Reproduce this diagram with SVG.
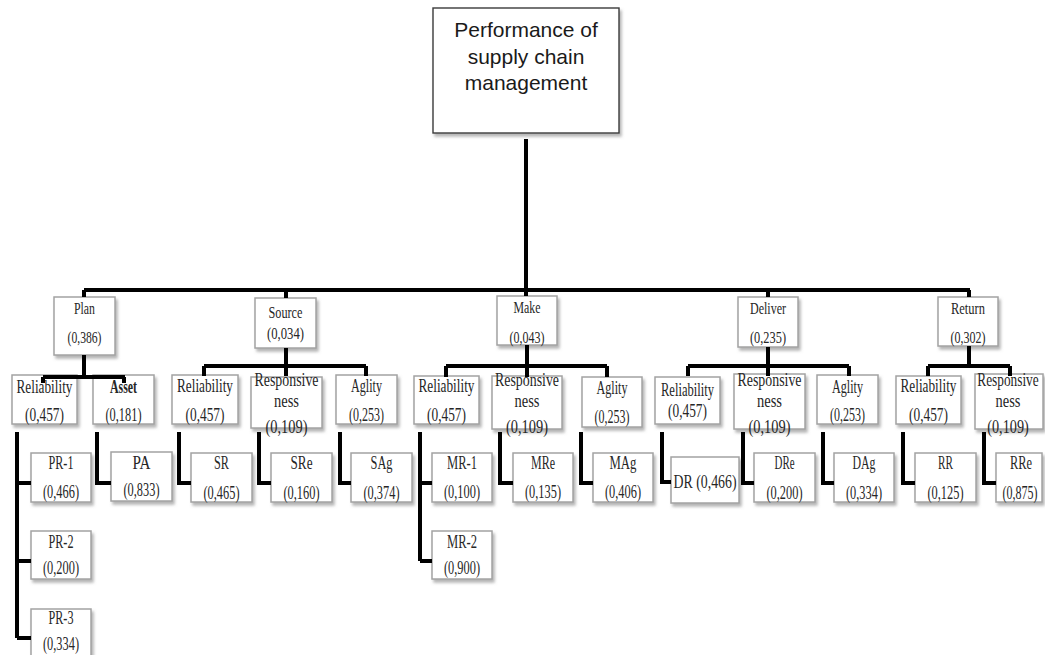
<svg xmlns="http://www.w3.org/2000/svg" width="1045" height="655" viewBox="0 0 1045 655">
<defs>
<filter id="sh" x="-20%" y="-20%" width="150%" height="150%">
<feDropShadow dx="2" dy="3" stdDeviation="1.5" flood-color="#777" flood-opacity="0.55"/>
</filter>
<style>
.box{fill:#fff;stroke:#a3a3a3;stroke-width:1.5;filter:url(#sh)}
.root{fill:#fff;stroke:#3a3a3a;stroke-width:1.4;filter:url(#sh)}
.t{font-family:"Liberation Serif","Times New Roman",serif;font-size:18.5px;fill:#262626;text-anchor:middle}
.t1{font-size:17.5px}
.rt{font-family:"Liberation Sans",Arial,sans-serif;font-size:21px;fill:#1a1a1a;text-anchor:middle}
.c{stroke:#000;stroke-width:4;fill:none}
</style>
</defs>
<rect width="1045" height="655" fill="#fff"/>

<g id="root">
<rect class="root" x="433" y="8" width="186" height="125"/>
<text class="rt" x="526" y="37">Performance of</text>
<text class="rt" x="526" y="64">supply chain</text>
<text class="rt" x="526" y="90">management</text>
</g>

<!-- level 1 -->
<g id="plan"><rect class="box" x="54" y="297" width="61" height="58"/>
<text class="t t1" x="84.5" y="314" textLength="21" lengthAdjust="spacingAndGlyphs">Plan</text>
<text class="t t1" x="84.5" y="343" textLength="34" lengthAdjust="spacingAndGlyphs">(0,386)</text></g>
<g id="source"><rect class="box" x="255" y="298" width="61" height="50"/>
<text class="t t1" x="285.5" y="318" textLength="34" lengthAdjust="spacingAndGlyphs">Source</text>
<text class="t t1" x="285.5" y="339" textLength="37" lengthAdjust="spacingAndGlyphs">(0,034)</text></g>
<g id="make"><rect class="box" x="497" y="296" width="60" height="49"/>
<text class="t t1" x="527" y="313" textLength="27" lengthAdjust="spacingAndGlyphs">Make</text>
<text class="t t1" x="527" y="343" textLength="35" lengthAdjust="spacingAndGlyphs">(0,043)</text></g>
<g id="deliver"><rect class="box" x="738" y="297" width="60" height="50"/>
<text class="t t1" x="768" y="314" textLength="36" lengthAdjust="spacingAndGlyphs">Deliver</text>
<text class="t t1" x="768" y="343" textLength="36" lengthAdjust="spacingAndGlyphs">(0,235)</text></g>
<g id="return"><rect class="box" x="938" y="297" width="60" height="49"/>
<text class="t t1" x="968" y="314" textLength="34" lengthAdjust="spacingAndGlyphs">Return</text>
<text class="t t1" x="968" y="343" textLength="35" lengthAdjust="spacingAndGlyphs">(0,302)</text></g>

<!-- level 2 -->
<g id="plan-rel"><rect class="box" x="12" y="375" width="65" height="49"/>
<text class="t" x="44.5" y="393" textLength="56" lengthAdjust="spacingAndGlyphs">Reliability</text>
<text class="t" x="44.5" y="421" textLength="39" lengthAdjust="spacingAndGlyphs">(0,457)</text></g>
<g id="plan-asset"><rect class="box" x="93" y="375" width="61" height="49"/>
<text class="t" x="123.5" y="393" font-weight="bold" textLength="27" lengthAdjust="spacingAndGlyphs">Asset</text>
<text class="t" x="123.5" y="421" textLength="36" lengthAdjust="spacingAndGlyphs">(0,181)</text></g>

<g id="src-rel"><rect class="box" x="172" y="375" width="66" height="49"/>
<text class="t" x="205" y="392" textLength="56" lengthAdjust="spacingAndGlyphs">Reliability</text>
<text class="t" x="205" y="421" textLength="39" lengthAdjust="spacingAndGlyphs">(0,457)</text></g>
<g id="src-resp"><rect class="box" x="251" y="377" width="71" height="51"/>
<text class="t" x="286.5" y="386" textLength="64" lengthAdjust="spacingAndGlyphs">Responsive</text>
<text class="t" x="286.5" y="407" textLength="25" lengthAdjust="spacingAndGlyphs">ness</text>
<text class="t" x="286.5" y="433" textLength="42" lengthAdjust="spacingAndGlyphs">(0,109)</text></g>
<g id="src-ag"><rect class="box" x="336" y="375" width="61" height="49"/>
<text class="t" x="366.5" y="392" textLength="31" lengthAdjust="spacingAndGlyphs">Aglity</text>
<text class="t" x="366.5" y="421" textLength="35" lengthAdjust="spacingAndGlyphs">(0,253)</text></g>

<g id="make-rel"><rect class="box" x="414" y="376" width="65" height="48"/>
<text class="t" x="446.5" y="392" textLength="56" lengthAdjust="spacingAndGlyphs">Reliability</text>
<text class="t" x="446.5" y="421" textLength="39" lengthAdjust="spacingAndGlyphs">(0,457)</text></g>
<g id="make-resp"><rect class="box" x="492" y="376" width="70" height="53"/>
<text class="t" x="527" y="386" textLength="64" lengthAdjust="spacingAndGlyphs">Responsive</text>
<text class="t" x="527" y="407" textLength="25" lengthAdjust="spacingAndGlyphs">ness</text>
<text class="t" x="527" y="433" textLength="42" lengthAdjust="spacingAndGlyphs">(0,109)</text></g>
<g id="make-ag"><rect class="box" x="582" y="377" width="60" height="50"/>
<text class="t" x="612" y="394" textLength="31" lengthAdjust="spacingAndGlyphs">Aglity</text>
<text class="t" x="612" y="423" textLength="35" lengthAdjust="spacingAndGlyphs">(0,253)</text></g>

<g id="del-rel"><rect class="box" x="655" y="377" width="65" height="47"/>
<text class="t" x="687.5" y="396" textLength="53" lengthAdjust="spacingAndGlyphs">Reliability</text>
<text class="t" x="687.5" y="417" textLength="39" lengthAdjust="spacingAndGlyphs">(0,457)</text></g>
<g id="del-resp"><rect class="box" x="734" y="374" width="71" height="55"/>
<text class="t" x="769.5" y="386" textLength="64" lengthAdjust="spacingAndGlyphs">Responsive</text>
<text class="t" x="769.5" y="407" textLength="25" lengthAdjust="spacingAndGlyphs">ness</text>
<text class="t" x="769.5" y="433" textLength="42" lengthAdjust="spacingAndGlyphs">(0,109)</text></g>
<g id="del-ag"><rect class="box" x="817" y="375" width="61" height="49"/>
<text class="t" x="847.5" y="393" textLength="31" lengthAdjust="spacingAndGlyphs">Aglity</text>
<text class="t" x="847.5" y="421" textLength="35" lengthAdjust="spacingAndGlyphs">(0,253)</text></g>

<g id="ret-rel"><rect class="box" x="896" y="376" width="65" height="48"/>
<text class="t" x="928.5" y="392" textLength="56" lengthAdjust="spacingAndGlyphs">Reliability</text>
<text class="t" x="928.5" y="421" textLength="39" lengthAdjust="spacingAndGlyphs">(0,457)</text></g>
<g id="ret-resp"><rect class="box" x="975" y="374" width="68" height="55"/>
<text class="t" transform="translate(1008 386) scale(0.72 1)">Responsive</text>
<text class="t" transform="translate(1008 407) scale(0.78 1)">ness</text>
<text class="t" transform="translate(1008 433) scale(0.77 1)">(0,109)</text></g>

<!-- level 3 -->
<g id="pr1"><rect class="box" x="31" y="453" width="60" height="49"/>
<text class="t" x="61" y="469" textLength="25" lengthAdjust="spacingAndGlyphs">PR-1</text>
<text class="t" x="61" y="498" textLength="36" lengthAdjust="spacingAndGlyphs">(0,466)</text></g>
<g id="pr2"><rect class="box" x="31" y="531" width="60" height="48"/>
<text class="t" x="61" y="548" textLength="25" lengthAdjust="spacingAndGlyphs">PR-2</text>
<text class="t" x="61" y="574" textLength="36" lengthAdjust="spacingAndGlyphs">(0,200)</text></g>
<g id="pr3"><rect class="box" x="31" y="609" width="60" height="50"/>
<text class="t" x="61" y="624" textLength="25" lengthAdjust="spacingAndGlyphs">PR-3</text>
<text class="t" x="61" y="650" textLength="36" lengthAdjust="spacingAndGlyphs">(0,334)</text></g>
<g id="pa"><rect class="box" x="111" y="452" width="61" height="49"/>
<text class="t" x="141.5" y="469" textLength="18" lengthAdjust="spacingAndGlyphs">PA</text>
<text class="t" x="141.5" y="496" textLength="36" lengthAdjust="spacingAndGlyphs">(0,833)</text></g>
<g id="sr"><rect class="box" x="191" y="453" width="61" height="49"/>
<text class="t" x="221.5" y="469" textLength="15" lengthAdjust="spacingAndGlyphs">SR</text>
<text class="t" x="221.5" y="499" textLength="36" lengthAdjust="spacingAndGlyphs">(0,465)</text></g>
<g id="sre"><rect class="box" x="271" y="453" width="61" height="49"/>
<text class="t" x="301.5" y="469" textLength="22" lengthAdjust="spacingAndGlyphs">SRe</text>
<text class="t" x="301.5" y="499" textLength="36" lengthAdjust="spacingAndGlyphs">(0,160)</text></g>
<g id="sag"><rect class="box" x="351" y="453" width="61" height="49"/>
<text class="t" x="381.5" y="469" textLength="22" lengthAdjust="spacingAndGlyphs">SAg</text>
<text class="t" x="381.5" y="499" textLength="36" lengthAdjust="spacingAndGlyphs">(0,374)</text></g>
<g id="mr1"><rect class="box" x="432" y="453" width="60" height="49"/>
<text class="t" x="462" y="469" textLength="30" lengthAdjust="spacingAndGlyphs">MR-1</text>
<text class="t" x="462" y="498" textLength="36" lengthAdjust="spacingAndGlyphs">(0,100)</text></g>
<g id="mr2"><rect class="box" x="432" y="531" width="60" height="48"/>
<text class="t" x="462" y="548" textLength="30" lengthAdjust="spacingAndGlyphs">MR-2</text>
<text class="t" x="462" y="574" textLength="36" lengthAdjust="spacingAndGlyphs">(0,900)</text></g>
<g id="mre"><rect class="box" x="513" y="453" width="60" height="49"/>
<text class="t" x="543" y="469" textLength="24" lengthAdjust="spacingAndGlyphs">MRe</text>
<text class="t" x="543" y="498" textLength="36" lengthAdjust="spacingAndGlyphs">(0,135)</text></g>
<g id="mag"><rect class="box" x="593" y="453" width="60" height="49"/>
<text class="t" x="623" y="469" textLength="27" lengthAdjust="spacingAndGlyphs">MAg</text>
<text class="t" x="623" y="498" textLength="36" lengthAdjust="spacingAndGlyphs">(0,406)</text></g>
<g id="dr"><rect class="box" x="671" y="457" width="68" height="46"/>
<text class="t" x="705" y="488" textLength="63" lengthAdjust="spacingAndGlyphs">DR (0,466)</text></g>
<g id="dre"><rect class="box" x="754" y="453" width="61" height="49"/>
<text class="t" x="784.5" y="469" textLength="20" lengthAdjust="spacingAndGlyphs">DRe</text>
<text class="t" x="784.5" y="499" textLength="36" lengthAdjust="spacingAndGlyphs">(0,200)</text></g>
<g id="dag"><rect class="box" x="834" y="453" width="60" height="49"/>
<text class="t" x="864" y="469" textLength="23" lengthAdjust="spacingAndGlyphs">DAg</text>
<text class="t" x="864" y="499" textLength="36" lengthAdjust="spacingAndGlyphs">(0,334)</text></g>
<g id="rr"><rect class="box" x="915" y="453" width="61" height="49"/>
<text class="t" x="945.5" y="469" textLength="15" lengthAdjust="spacingAndGlyphs">RR</text>
<text class="t" x="945.5" y="499" textLength="36" lengthAdjust="spacingAndGlyphs">(0,125)</text></g>
<g id="rre"><rect class="box" x="996" y="453" width="46" height="49"/>
<text class="t" transform="translate(1021 469) scale(0.67 1)">RRe</text>
<text class="t" transform="translate(1020 499) scale(0.65 1)">(0,875)</text></g>

<g id="connectors" class="c">
<path d="M526 139V290"/>
<path d="M84 290H970"/>
<path d="M84 290V297M286 290V298M526 290V296M768 290V297M969 290V297"/>
<path d="M84 355V377M43 377H125M43 377V383M124 377V383"/>
<path d="M286 348V376M204 366H366M204 366V376M366 366V376"/>
<path d="M527 345V377M446 366H607M446 366V377M607 366V377"/>
<path d="M768 347V376M688 366H849M688 366V376M849 366V376"/>
<path d="M969 346V366M928 366H1010M928 366V376M1010 366V376"/>
<path d="M17 432V638M17 483H31M17 561H31M17 638H31"/>
<path d="M97 432V483H111"/>
<path d="M179 432V483H191"/>
<path d="M259 432V483H271"/>
<path d="M340 432V483H351"/>
<path d="M420 432V561M420 483H432M420 561H432"/>
<path d="M500 432V483H513"/>
<path d="M581 432V483H593"/>
<path d="M662 432V482H671"/>
<path d="M743 432V483H754"/>
<path d="M823 432V483H834"/>
<path d="M903 432V483H915"/>
<path d="M984 432V483H996"/>
</g>
</svg>
